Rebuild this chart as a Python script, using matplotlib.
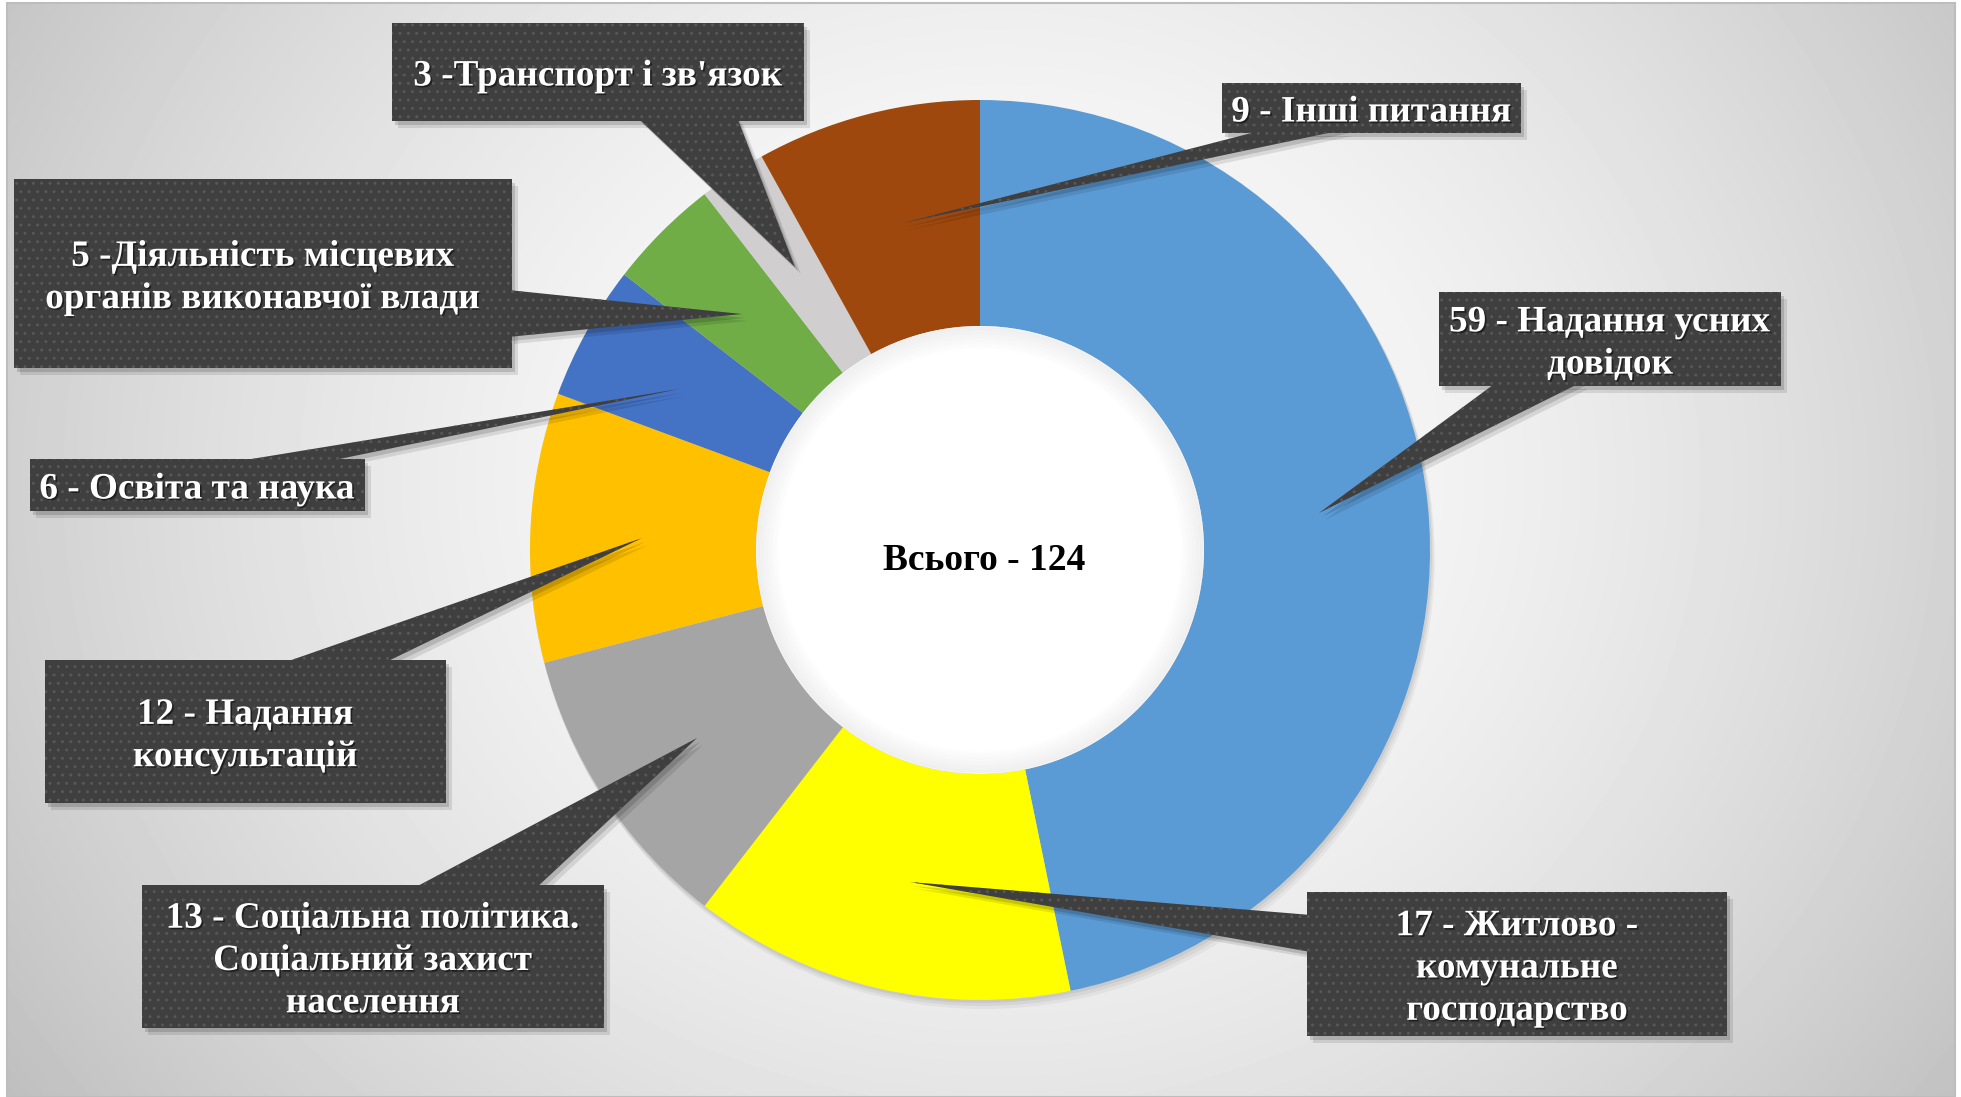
import numpy as np
import matplotlib.pyplot as plt
import matplotlib.patheffects as pe
from matplotlib.patches import Rectangle, Polygon, Circle

W, H = 1961, 1097

# slices, clockwise from 12 o'clock (sizes as drawn in the picture)
slice_values = [58, 17, 13, 12, 6, 5, 3, 10]
total = 124
labels = [
    "59 - Надання усних\nдовідок",
    "17 - Житлово -\nкомунальне\nгосподарство",
    "13 - Соціальна політика.\nСоціальний захист\nнаселення",
    "12 - Надання\nконсультацій",
    "6 - Освіта та наука",
    "5 -Діяльність місцевих\nорганів виконавчої влади",
    "3 -Транспорт і зв'язок",
    "9 - Інші питання",
]
colors = ["#5B9BD5", "#FFFF00", "#A5A5A5", "#FFC000",
          "#4472C4", "#70AD47", "#D0CECE", "#9E480E"]

# callout layout in pixels: box (x0, y0, x1, y1), pointer base (2 pts), pointer tip
boxes = [(1439, 292, 1781, 386), (1307, 892, 1727, 1036), (142, 885, 604, 1028),
         (45, 660, 446, 803), (30, 459, 365, 511), (14, 179, 512, 368),
         (392, 23, 804, 121), (1222, 83, 1521, 133)]
bases = [((1497, 382), (1582, 382)), ((1311, 915), (1311, 952)), ((412, 889), (535, 889)),
         ((280, 664), (382, 664)), ((227, 463), (320, 463)), ((508, 290), (508, 337)),
         ((637, 117), (737, 117)), ((1267, 129), (1347, 129))]
tips = [(1319, 513), (910, 882), (697, 738), (642, 538), (679, 389),
        (742, 314), (795, 267), (903, 223)]

serif = "Liberation Serif"

fig = plt.figure(figsize=(W / 100, H / 100), dpi=100)
ax = fig.add_axes([0, 0, 1, 1])

# background panel with radial gradient
fx0, fy0, fx1, fy1 = 7, 3, 1955, 1097
gx, gy = np.meshgrid(np.linspace(fx0, fx1, 400), np.linspace(fy0, fy1, 220))
d = np.sqrt(((gx - 1000) / (W / 2)) ** 2 + ((gy - 480) / (H * 0.8)) ** 2)
grad = 1 - 0.18 * d ** 1.6
ax.imshow(grad, cmap="gray", vmin=0, vmax=1, extent=(fx0, fx1, fy1, fy0),
          interpolation="bilinear", zorder=0)
ax.add_patch(Rectangle((fx0, fy0), fx1 - fx0, fy1 - fy0, fill=False,
                       edgecolor="#BDBDBD", lw=1.5, zorder=1))

# donut
cx, cy, R, r_in = 980, 550, 450, 224
for k, a in [(8, 0.04), (5, 0.05), (2, 0.06)]:
    ax.add_patch(Circle((cx + k * 0.5, cy + k), R + 1, color="black", alpha=a, lw=0, zorder=1.5))
ax.pie(slice_values, colors=colors, startangle=-90, counterclock=True, radius=R,
       center=(cx, cy), wedgeprops=dict(width=R - r_in, linewidth=0, zorder=2), frame=True)
ax.add_patch(Circle((cx, cy), r_in, color="white", lw=0, zorder=3))
for i in range(14):
    ax.add_patch(Circle((cx, cy), r_in - 1 - i * 1.6, fill=False, edgecolor="#9a9a9a",
                        lw=2, alpha=0.09 * (1 - i / 14), zorder=3.1))
ax.text(cx + 4, cy + 10, f"Всього - {total}", ha="center", va="center",
        fontsize=27, fontweight="bold", family=serif, color="black", zorder=4)

# callouts
shadow = [pe.withSimplePatchShadow(offset=(1.2, -1.2), shadow_rgbFace="black", alpha=0.5)]
for lab, (x0, y0, x1, y1), (pa, pb), tip in zip(labels, boxes, bases, tips):
    for off, a in [((6, 7), 0.10), ((3, 4), 0.14)]:
        ax.add_patch(Rectangle((x0 + off[0], y0 + off[1]), x1 - x0, y1 - y0,
                               color="black", alpha=a, lw=0, zorder=5))
        ax.add_patch(Polygon([(pa[0] + off[0], pa[1] + off[1]), (pb[0] + off[0], pb[1] + off[1]),
                              (tip[0] + off[0], tip[1] + off[1])],
                             color="black", alpha=a, lw=0, zorder=5))
    ax.add_patch(Polygon([pa, pb, tip], facecolor="#3F3F3F", edgecolor="#575757",
                         hatch="..", lw=0, zorder=6))
    ax.add_patch(Rectangle((x0, y0), x1 - x0, y1 - y0, facecolor="#3F3F3F",
                           edgecolor="#575757", hatch="..", lw=0, zorder=6))
    ax.text((x0 + x1) / 2, (y0 + y1) / 2 + 4, lab, ha="center", va="center",
            fontsize=26.8, fontweight="bold", family=serif, color="white",
            linespacing=1.27, zorder=7, path_effects=shadow)

ax.set_xlim(0, W)
ax.set_ylim(H, 0)
ax.set_aspect("equal")
ax.axis("off")
fig.savefig("out.png", dpi=100, facecolor="white")
